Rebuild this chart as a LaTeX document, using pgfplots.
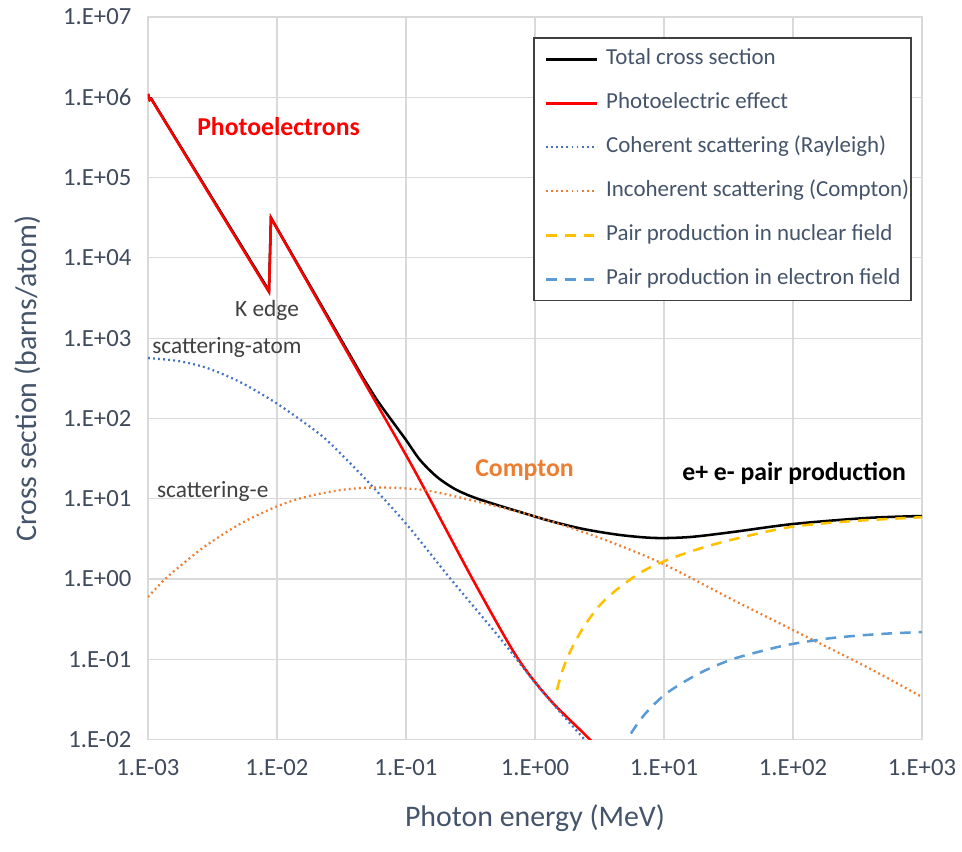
\documentclass[border=0pt]{standalone}
\usepackage{fontspec}
\setmainfont{Carlito}
\usepackage{pgfplots}
\pgfplotsset{compat=1.18}
\usetikzlibrary{calc}

\definecolor{gridgray}{HTML}{D9D9D9}
\definecolor{slate}{HTML}{44546A}
\definecolor{tickcol}{HTML}{3F4A5C}
\definecolor{annot}{HTML}{404040}
\definecolor{photored}{HTML}{FF0000}
\definecolor{cohblue}{HTML}{4472C4}
\definecolor{incorange}{HTML}{ED7D31}
\definecolor{nucyellow}{HTML}{FFC000}
\definecolor{elblue}{HTML}{5B9BD5}

\begin{document}
\begin{tikzpicture}
\path[use as bounding box] (-111pt,-84pt) rectangle (610.5pt,554.75pt);
\begin{axis}[
  name=ax,
  at={(0,0)}, anchor=south west,
  width=580.5pt, height=542pt, scale only axis,
  xmode=log, ymode=log,
  xmin=1e-3, xmax=1e3, ymin=1e-2, ymax=1e7,
  xtick={1e-3,1e-2,1e-1,1,1e1,1e2,1e3},
  xticklabels={1.E-03,1.E-02,1.E-01,1.E+00,1.E+01,1.E+02,1.E+03},
  ytick={1e-2,1e-1,1,1e1,1e2,1e3,1e4,1e5,1e6,1e7},
  yticklabels={1.E-02,1.E-01,1.E+00,1.E+01,1.E+02,1.E+03,1.E+04,1.E+05,1.E+06,1.E+07},
  minor xtick={}, minor ytick={},
  major tick length=0pt, minor tick length=0pt,
  grid=major,
  major grid style={gridgray, line width=0.9pt},
  axis line style={gridgray, line width=0.9pt},
  tick label style={font=\fontsize{18.5}{21}\selectfont, text=tickcol},
  xticklabel style={yshift=-11pt},
  yticklabel style={xshift=-9pt},
  legend style={
    at={(rel axis cs:0.987,0.972)}, anchor=north east,
    draw=annot, line width=1.1pt,
    fill=white,
    font=\fontsize{17.2}{20}\selectfont, text=slate,
    inner xsep=0.5pt, inner ysep=7pt,
    row sep=15pt,
    nodes={inner sep=1pt, text height=12pt, text depth=4pt},
  },
  legend cell align=left,
  legend image code/.code={%
    \path[draw=none] (-8.5pt,0pt) (44pt,0pt);
    \draw[#1] (0pt,0pt) -- (38pt,0pt);},
]

% Total cross section
\addplot[black, line width=1.9pt] coordinates {
  (1e-3,1.1e6) (1.03e-3,9.4e5) (1.06e-3,9.6e5)
  (8.67e-3,3900) (8.98e-3,31600) (0.0465,320)
};
\addlegendentry{Total cross section}
\addplot[black, line width=1.9pt, smooth, forget plot] coordinates {
  (0.0465,320) (0.0596,170) (0.0752,101) (0.1,54) (0.1285,30.4)
  (0.174,18.7) (0.240,13.2) (0.331,10.5) (0.5075,8.37) (0.766,6.85)
  (1.306,5.30) (2.357,4.21) (4.56,3.54) (8.51,3.25) (15.9,3.34)
  (34.3,3.86) (100,4.85) (375,5.77) (1000,6.10)
};

% Photoelectric effect
\addplot[photored, line width=1.9pt] coordinates {
  (1e-3,1.1e6) (1.03e-3,9.2e5) (1.06e-3,9.5e5)
  (8.67e-3,3760) (8.98e-3,31400) (0.0465,301)
};
\addlegendentry{Photoelectric effect}
\addplot[photored, line width=1.9pt, smooth, forget plot] coordinates {
  (0.0465,301) (0.1,35) (0.146,11.5) (0.331,0.975) (0.724,0.107)
  (1.31,0.0312) (2.67,0.01) (3.5,0.0058)
};

% Coherent scattering
\addplot[cohblue, line width=1.7pt, dash pattern=on 1.4pt off 2.4pt, smooth] coordinates {
  (1e-3,566) (1.71e-3,520) (2.86e-3,426) (5.16e-3,285) (9.31e-3,165)
  (0.01456,101) (0.0228,58.9) (0.0355,29.6) (0.0555,14.0) (0.102,4.72)
  (0.219,1.03) (0.535,0.184) (0.965,0.0552) (1.563,0.0221) (2.44,0.0099)
  (3.3,0.0055)
};
\addlegendentry{Coherent scattering (Rayleigh)}

% Incoherent scattering
\addplot[incorange, line width=1.7pt, dash pattern=on 1.4pt off 2.4pt, smooth] coordinates {
  (1e-3,0.598) (1.355e-3,1.0) (1.936e-3,1.63) (2.86e-3,2.66) (5.16e-3,4.85)
  (9.31e-3,7.67) (0.01456,9.95) (0.0228,11.8) (0.0355,13.2) (0.0555,13.8)
  (0.0897,13.6) (0.1535,12.5) (0.395,8.87) (1.04,5.93) (3.19,3.25)
  (9.8,1.55) (34.3,0.55) (100,0.232) (375,0.080) (1000,0.034)
};
\addlegendentry{Incoherent scattering (Compton)}

% Pair production, nuclear field
\addplot[nucyellow, line width=1.9pt, dash pattern=on 8pt off 6pt, smooth] coordinates {
  (1.48,0.0416) (1.618,0.0697) (1.867,0.1236) (2.357,0.246) (3.19,0.475)
  (4.56,0.797) (7.13,1.298) (12.17,1.884) (22.7,2.62) (46.4,3.5)
  (100,4.5) (277,5.25) (1000,5.9)
};
\addlegendentry{Pair production in nuclear field}

% Pair production, electron field
\addplot[elblue, line width=1.9pt, dash pattern=on 8pt off 6pt, smooth] coordinates {
  (4.72,0.00745) (5.45,0.01146) (7.13,0.0209) (10.55,0.0382) (19.0,0.0677)
  (34.3,0.101) (66.4,0.135) (100,0.156) (204,0.185) (472,0.207) (1000,0.219)
};
\addlegendentry{Pair production in electron field}

% Region labels
\node[anchor=west, inner sep=0pt, text=photored, font=\bfseries\fontsize{19.3}{22}\selectfont]
  at (axis cs:2.4e-3,4.27e5) {Photoelectrons};
\node[anchor=west, inner sep=0pt, text=annot, font=\fontsize{17.5}{20}\selectfont]
  at (axis cs:4.72e-3,2245) {K edge};
\node[anchor=west, inner sep=0pt, text=annot, font=\fontsize{17.5}{20}\selectfont]
  at (axis cs:1.074e-3,776) {scattering-atom};
\node[anchor=west, inner sep=0pt, text=annot, font=\fontsize{17.5}{20}\selectfont]
  at (axis cs:1.17e-3,12.2) {scattering-e};
\node[anchor=west, inner sep=0pt, text=incorange, font=\bfseries\fontsize{19.3}{22}\selectfont]
  at (axis cs:0.343,22.9) {Compton};
\node[anchor=west, inner sep=0pt, text=black, font=\bfseries\fontsize{19.3}{22}\selectfont]
  at (axis cs:13.8,20.9) {e+ e- pair production};

\end{axis}

% Axis titles
\node[font=\fontsize{22.4}{26}\selectfont, text=slate]
  at ($(ax.south)+(0,-58.5pt)$) {Photon energy (MeV)};
\node[font=\fontsize{22.4}{26}\selectfont, text=slate, rotate=90]
  at ($(ax.west)+(-90pt,0)$) {Cross section (barns/atom)};
\end{tikzpicture}
\end{document}
